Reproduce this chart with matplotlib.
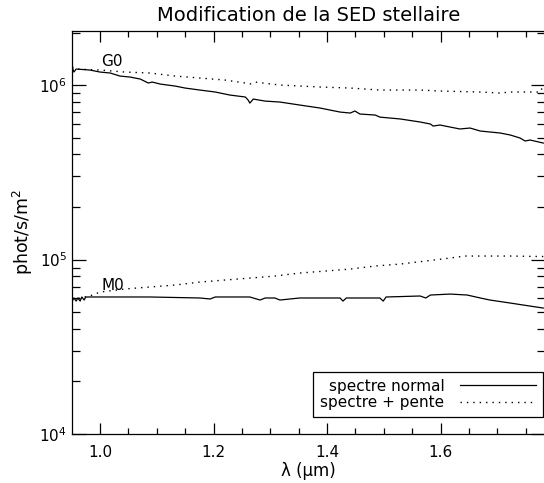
import matplotlib
matplotlib.use('Agg')
import matplotlib.pyplot as plt
from matplotlib.ticker import MultipleLocator, LogLocator, NullFormatter

# G0 star, normal spectrum
g0_lam = [0.951, 0.954, 0.958, 0.982, 1.000, 1.018, 1.035, 1.053, 1.071, 1.085,
          1.092, 1.106, 1.132, 1.150, 1.176, 1.203, 1.229, 1.256, 1.261, 1.264,
          1.270, 1.291, 1.317, 1.352, 1.388, 1.423, 1.441, 1.449, 1.458, 1.485,
          1.493, 1.529, 1.564, 1.582, 1.587, 1.599, 1.634, 1.652, 1.670, 1.705,
          1.723, 1.740, 1.749, 1.758, 1.781]
g0_norm = [1.268e6, 1.187e6, 1.235e6, 1.219e6, 1.187e6, 1.172e6, 1.126e6, 1.111e6, 1.082e6, 1.027e6,
           1.040e6, 1.013e6, 9.87e5, 9.61e5, 9.36e5, 9.12e5, 8.76e5, 8.54e5, 8.20e5, 7.88e5,
           8.31e5, 8.09e5, 7.99e5, 7.68e5, 7.38e5, 7.00e5, 6.91e5, 7.10e5, 6.82e5, 6.73e5,
           6.55e5, 6.39e5, 6.14e5, 5.98e5, 5.82e5, 5.90e5, 5.60e5, 5.67e5, 5.45e5, 5.31e5,
           5.17e5, 4.97e5, 4.78e5, 4.84e5, 4.65e5]

# G0 star, spectrum + slope
g0s_lam = [0.951, 0.958, 1.000, 1.044, 1.088, 1.132, 1.176, 1.220, 1.256, 1.264,
           1.273, 1.317, 1.388, 1.441, 1.493, 1.564, 1.599, 1.670, 1.705, 1.723,
           1.776, 1.781]
g0_slope = [1.268e6, 1.235e6, 1.219e6, 1.187e6, 1.172e6, 1.126e6, 1.097e6, 1.068e6, 1.027e6, 1.013e6,
            1.040e6, 1.000e6, 9.74e5, 9.61e5, 9.36e5, 9.36e5, 9.24e5, 9.12e5, 9.00e5, 9.12e5,
            9.12e5, 1.000e6]

# M0 star, normal spectrum
m0_lam = [0.951, 0.954, 0.958, 0.961, 0.965, 0.968, 0.972, 0.975, 0.982, 1.000,
          1.088, 1.176, 1.194, 1.203, 1.264, 1.282, 1.291, 1.308, 1.317, 1.352,
          1.423, 1.428, 1.434, 1.493, 1.499, 1.504, 1.564, 1.574, 1.582, 1.617,
          1.647, 1.670, 1.687, 1.723, 1.781]
m0_norm = [5.86e4, 6.02e4, 5.78e4, 6.02e4, 5.78e4, 6.10e4, 5.86e4, 6.10e4, 6.10e4, 6.10e4,
           6.10e4, 6.02e4, 5.94e4, 6.10e4, 6.10e4, 5.86e4, 6.02e4, 6.02e4, 5.86e4, 6.02e4,
           6.02e4, 5.78e4, 6.02e4, 6.02e4, 5.78e4, 6.10e4, 6.18e4, 6.02e4, 6.26e4, 6.34e4,
           6.26e4, 6.02e4, 5.86e4, 5.63e4, 5.27e4]

# M0 star, spectrum + slope
m0s_lam = [0.951, 0.965, 0.982, 0.991, 1.000, 1.044, 1.088, 1.132, 1.176, 1.220,
           1.264, 1.308, 1.352, 1.397, 1.441, 1.485, 1.529, 1.573, 1.617, 1.643,
           1.670, 1.723, 1.781]
m0_slope = [5.86e4, 6.02e4, 6.18e4, 6.34e4, 6.51e4, 6.78e4, 6.96e4, 7.14e4, 7.43e4, 7.63e4,
            7.83e4, 8.04e4, 8.37e4, 8.59e4, 8.82e4, 9.18e4, 9.42e4, 9.80e4, 1.020e5, 1.047e5,
            1.047e5, 1.047e5, 1.040e5]

star_labels = ['G0', 'M0']
star_label_pos = [(1.002, 1.373e6), (1.002, 7.14e4)]
legend_labels = ['spectre normal', 'spectre + pente']

fig = plt.figure(figsize=(5.44, 4.83), dpi=100)
ax = fig.add_axes([0.1324, 0.1014, 0.869, 0.8344])

dots = (0, (1, 3.6))
ax.plot(g0_lam, g0_norm, color='black', lw=0.9, label=legend_labels[0])
ax.plot(g0s_lam, g0_slope, color='black', lw=1.0, linestyle=dots, label=legend_labels[1])
ax.plot(m0_lam, m0_norm, color='black', lw=0.9)
ax.plot(m0s_lam, m0_slope, color='black', lw=1.0, linestyle=dots)

for lab, (lx, ly) in zip(star_labels, star_label_pos):
    ax.text(lx, ly, lab, fontsize=11, va='center', ha='left')

ax.set_yscale('log')
ax.set_xlim(0.9507, 1.7836)
ax.set_ylim(1e4, 2.04e6)

ax.xaxis.set_major_locator(MultipleLocator(0.2))
ax.xaxis.set_minor_locator(MultipleLocator(0.05))
ax.yaxis.set_major_locator(LogLocator(base=10))
ax.yaxis.set_minor_locator(LogLocator(base=10, subs=range(2, 10)))
ax.yaxis.set_minor_formatter(NullFormatter())

ax.tick_params(which='both', direction='in', top=True, right=True, labelsize=11, width=0.9)
ax.tick_params(which='major', length=8)
ax.tick_params(which='minor', length=4)
ax.tick_params(axis='y', which='major', length=10)
ax.tick_params(axis='y', which='minor', length=6)
ax.tick_params(axis='x', pad=8)

for s in ax.spines.values():
    s.set_linewidth(0.9)

ax.set_title('Modification de la SED stellaire', fontsize=14, pad=7)
ax.set_xlabel('\u03bb (\u03bcm)', fontsize=12, labelpad=1)
ax.set_ylabel('phot/s/m$^2$', fontsize=12.5, labelpad=3)

leg = ax.legend(loc='lower right', bbox_to_anchor=(0.996, 0.042), borderaxespad=0,
                markerfirst=False, fontsize=11, handlelength=5.0, handletextpad=1.0,
                borderpad=0.45, labelspacing=0.1, fancybox=False, framealpha=1,
                edgecolor='black')
leg.get_frame().set_linewidth(0.9)

fig.savefig('out.png', dpi=100)
